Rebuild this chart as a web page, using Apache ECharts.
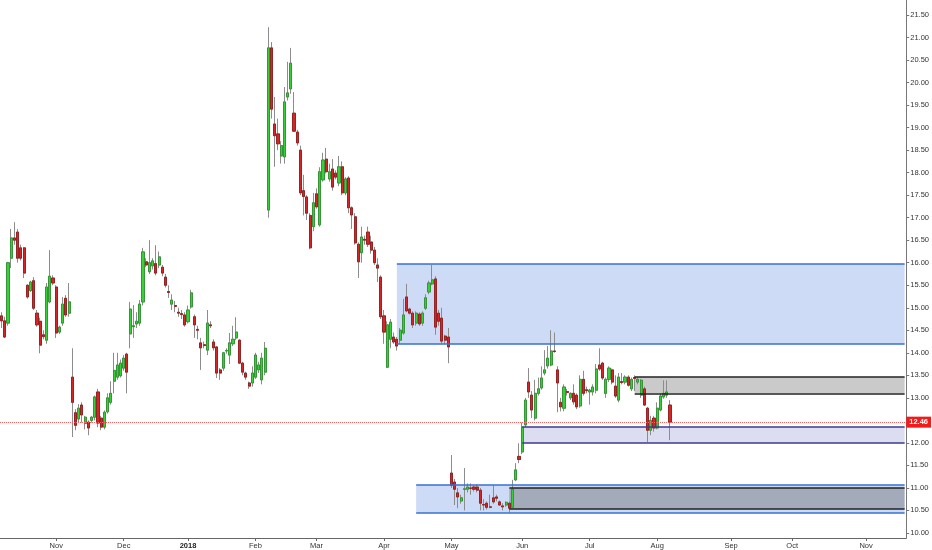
<!DOCTYPE html>
<html>
<head>
<meta charset="utf-8">
<script src="https://cdn.jsdelivr.net/npm/echarts@6/dist/echarts.min.js"></script>
<style>
  html, body { margin: 0; padding: 0; background: #fff; }
  #chart { width: 932px; height: 550px; }
</style>
</head>
<body>
<div id="chart"></div>
<script>
// daily bars from 2017-10-09, axis runs on to 2018-11-19
const firstDay = "2017-10-09";
const lastDay = "2018-11-19";
const holidays = ["2017-11-23", "2017-12-25", "2018-01-01", "2018-01-15", "2018-02-19",
  "2018-03-30", "2018-05-28", "2018-07-04", "2018-09-03"];

const opens = [
  14.82, 14.71, 14.66, 16.10, 16.55, 16.68, 16.33, 16.33, 15.50, 15.38,
  15.60, 14.88, 14.70, 14.40, 14.28, 15.13, 15.66, 15.46, 14.46, 14.66,
  15.21, 14.88, 13.46, 12.67, 12.53, 12.84, 12.43, 12.46, 12.50, 12.57,
  13.13, 12.55, 12.35, 12.69, 12.90, 13.37, 13.46, 13.49, 13.66, 13.97,
  14.42, 14.58, 14.64, 14.66, 15.13, 16.02, 15.80, 15.93, 15.98, 15.95,
  15.90, 15.68, 15.36, 15.08, 15.05, 14.90, 14.87, 14.84, 14.69, 15.02,
  14.80, 14.52, 14.22, 14.18, 14.06, 14.62, 14.24, 14.13, 13.62, 13.66,
  14.04, 13.95, 14.20, 14.33, 14.28, 13.77, 13.55, 13.33, 13.33, 13.46,
  13.62, 13.40, 13.57, 17.17, 20.77, 19.08, 18.86, 18.37, 18.35, 19.68,
  19.86, 19.32, 18.90, 18.50, 17.60, 17.46, 17.05, 16.80, 17.53, 16.84,
  17.84, 18.30, 17.86, 18.08, 17.99, 17.77, 18.13, 17.55, 17.88, 17.22,
  17.02, 16.41, 16.22, 16.52, 16.68, 16.46, 16.28, 15.95, 15.68, 14.82,
  13.68, 14.30, 14.35, 14.30, 14.28, 14.44, 15.24, 14.97, 14.88, 14.66,
  14.86, 14.66, 14.99, 15.35, 15.53, 15.64, 14.88, 14.77, 14.37, 14.35,
  11.33, 11.13, 10.89, 10.71, 10.97, 10.97, 11.00, 11.02, 11.02, 10.95,
  10.63, 10.66, 10.58, 10.78, 10.80, 10.69, 10.60, 10.62, 10.66, 10.57,
  11.18, 11.70, 11.80, 12.40, 13.35, 13.06, 12.55, 13.10, 13.22, 13.55,
  13.71, 13.73, 14.04, 13.62, 12.90, 12.77, 13.14, 13.00, 13.10, 13.06,
  12.82, 13.41, 13.18, 13.13, 13.13, 13.17, 13.73, 13.77, 13.10, 13.41,
  13.62, 13.26, 12.95, 13.36, 13.35, 13.46, 13.20, 13.45, 13.35, 13.06,
  13.20, 12.77, 12.28, 12.55, 12.33, 12.73, 13.02, 13.06, 12.84
];
const highs = [
  14.90, 14.80, 16.02, 16.75, 16.90, 16.75, 16.40, 16.35, 15.52, 15.60,
  15.68, 14.95, 14.78, 14.50, 15.55, 16.28, 15.72, 15.50, 14.60, 15.24,
  15.28, 15.55, 14.10, 12.75, 12.86, 12.90, 12.60, 12.50, 12.60, 13.05,
  13.20, 12.60, 12.72, 13.10, 13.37, 14.00, 14.00, 13.85, 13.95, 14.00,
  15.13, 15.06, 14.90, 15.17, 16.33, 16.10, 16.50, 16.10, 16.39, 16.25,
  15.95, 15.75, 15.50, 15.30, 15.15, 15.00, 14.95, 14.90, 15.05, 15.40,
  14.85, 14.60, 14.33, 14.25, 14.95, 14.70, 14.30, 14.15, 13.66, 14.02,
  14.10, 14.44, 14.60, 14.79, 14.30, 13.80, 13.58, 13.36, 13.70, 14.00,
  13.80, 14.00, 14.24, 21.23, 20.90, 19.68, 19.20, 18.70, 19.90, 20.46,
  20.77, 19.79, 18.95, 18.60, 17.95, 17.50, 17.10, 17.55, 17.65, 18.12,
  18.44, 18.55, 18.20, 18.30, 18.05, 18.37, 18.25, 17.90, 17.92, 17.25,
  17.10, 16.45, 16.80, 16.60, 16.80, 16.60, 16.35, 16.10, 15.72, 14.95,
  14.70, 14.75, 14.45, 14.35, 14.55, 15.20, 15.53, 15.00, 14.92, 14.92,
  14.90, 14.92, 15.30, 15.60, 15.95, 15.70, 14.95, 15.00, 14.40, 14.55,
  11.73, 11.20, 11.00, 10.85, 11.44, 11.10, 11.10, 11.05, 11.08, 11.00,
  10.75, 10.70, 10.85, 11.06, 10.85, 10.72, 10.66, 10.70, 10.70, 11.18,
  11.55, 11.99, 12.45, 13.00, 13.66, 13.15, 13.40, 13.45, 13.70, 14.06,
  14.15, 14.50, 14.45, 13.70, 13.00, 13.30, 13.20, 13.12, 13.30, 13.10,
  13.50, 13.60, 13.25, 13.20, 13.30, 13.75, 14.10, 13.80, 13.45, 13.70,
  13.65, 13.50, 13.55, 13.55, 13.50, 13.50, 13.45, 13.50, 13.45, 13.42,
  13.25, 12.80, 12.60, 12.60, 12.90, 13.10, 13.39, 13.39, 12.95
];
const lows = [
  14.55, 14.33, 14.60, 15.88, 16.40, 16.00, 16.05, 15.66, 15.20, 15.35,
  14.95, 14.58, 13.99, 14.30, 14.20, 15.10, 15.50, 14.33, 14.42, 14.60,
  14.80, 14.80, 12.13, 12.28, 12.45, 12.45, 12.30, 12.17, 12.45, 12.50,
  12.35, 12.28, 12.30, 12.65, 12.85, 13.10, 13.40, 13.45, 13.60, 13.10,
  14.10, 14.33, 14.55, 14.60, 15.05, 15.90, 15.75, 15.85, 15.72, 15.88,
  15.70, 15.45, 15.22, 14.95, 14.90, 14.80, 14.75, 14.58, 14.65, 14.98,
  14.33, 14.30, 13.62, 14.10, 13.95, 14.55, 14.05, 13.44, 13.40, 13.60,
  13.98, 13.75, 14.15, 14.28, 13.75, 13.50, 13.40, 13.20, 13.25, 13.42,
  13.55, 13.30, 13.50, 17.00, 19.20, 18.13, 18.50, 18.20, 18.20, 19.60,
  19.75, 18.90, 18.60, 17.50, 17.05, 16.95, 16.30, 16.70, 17.20, 16.80,
  17.80, 17.98, 17.80, 17.60, 17.85, 17.70, 17.50, 17.50, 17.10, 16.75,
  16.40, 15.66, 16.00, 16.40, 16.35, 16.20, 15.95, 15.57, 14.75, 14.20,
  13.66, 14.10, 14.20, 14.05, 14.20, 14.40, 14.90, 14.85, 14.55, 14.60,
  14.60, 14.60, 14.95, 15.30, 15.50, 14.40, 14.60, 14.20, 14.20, 13.77,
  11.00, 10.62, 10.55, 10.65, 10.50, 10.90, 10.85, 10.92, 10.90, 10.50,
  10.50, 10.52, 10.55, 10.65, 10.70, 10.60, 10.50, 10.58, 10.45, 10.55,
  11.15, 11.55, 11.75, 12.35, 13.00, 12.55, 12.50, 13.05, 13.18, 13.50,
  13.65, 13.70, 14.00, 12.68, 12.70, 12.70, 13.05, 12.95, 12.85, 12.75,
  12.78, 13.05, 13.10, 12.85, 13.05, 13.10, 13.60, 13.40, 13.00, 13.35,
  13.30, 13.00, 12.90, 13.30, 13.30, 13.25, 13.15, 13.15, 13.30, 13.00,
  12.82, 12.02, 12.17, 12.25, 12.30, 12.70, 12.98, 13.00, 12.06
];
const closes = [
  14.71, 14.35, 16.00, 16.55, 16.50, 16.10, 16.10, 15.77, 15.24, 15.57,
  14.99, 14.62, 14.17, 14.36, 15.46, 15.70, 15.55, 14.44, 14.57, 15.08,
  14.84, 15.13, 12.90, 12.39, 12.77, 12.62, 12.57, 12.33, 12.57, 13.02,
  12.44, 12.35, 12.68, 13.00, 13.10, 13.61, 13.73, 13.77, 13.88, 13.57,
  14.97, 14.60, 14.70, 15.08, 16.24, 15.95, 16.00, 16.04, 15.77, 16.13,
  15.77, 15.50, 15.34, 15.17, 15.03, 14.88, 14.85, 14.62, 14.95, 15.33,
  14.62, 14.50, 14.11, 14.16, 14.66, 14.60, 14.11, 13.55, 13.55, 14.00,
  14.05, 14.22, 14.30, 14.46, 13.77, 13.57, 13.46, 13.26, 13.55, 13.95,
  13.73, 13.88, 14.10, 20.77, 19.41, 18.82, 18.64, 18.60, 19.57, 19.77,
  20.43, 18.92, 18.66, 17.55, 17.47, 17.10, 16.33, 17.33, 17.24, 18.02,
  18.28, 18.02, 18.02, 17.68, 17.90, 18.13, 17.55, 17.86, 17.22, 17.06,
  16.44, 16.02, 16.57, 16.50, 16.41, 16.28, 16.00, 15.88, 14.80, 14.46,
  14.62, 14.68, 14.24, 14.15, 14.50, 14.84, 14.93, 14.88, 14.62, 14.88,
  14.64, 14.88, 15.22, 15.55, 15.62, 14.57, 14.70, 14.26, 14.28, 14.13,
  11.06, 10.97, 10.80, 10.78, 10.98, 11.02, 10.99, 10.97, 10.95, 10.66,
  10.62, 10.57, 10.57, 10.69, 10.77, 10.62, 10.58, 10.68, 10.55, 10.97,
  11.40, 11.63, 12.35, 12.95, 13.13, 12.73, 13.10, 13.20, 13.44, 13.62,
  13.88, 14.04, 14.03, 13.33, 12.80, 13.24, 13.12, 13.10, 12.91, 12.80,
  13.41, 13.10, 13.16, 13.17, 13.24, 13.64, 13.64, 13.44, 13.41, 13.66,
  13.35, 13.04, 13.46, 13.34, 13.46, 13.28, 13.41, 13.43, 13.41, 13.39,
  12.84, 12.28, 12.50, 12.33, 12.77, 13.04, 13.10, 13.13, 12.46
];

const yTicks = [10.0, 10.5, 11.0, 11.5, 12.0, 12.5, 13.0, 13.5, 14.0, 14.5, 15.0, 15.5,
  16.0, 16.5, 17.0, 17.5, 18.0, 18.5, 19.0, 19.5, 20.0, 20.5, 21.0, 21.5];
const monthNames = ["Jan", "Feb", "Mar", "Apr", "May", "Jun", "Jul", "Aug", "Sep", "Oct", "Nov", "Dec"];

// drawn zones: start day, top and bottom price (they all run to the right edge)
const zoneStart = ["2018-04-06", "2018-04-16", "2018-05-25", "2018-06-01", "2018-07-23"];
const zoneTop = [15.97, 11.06, 11.00, 12.35, 13.46];
const zoneBottom = [14.20, 10.45, 10.53, 12.00, 13.10];

const zoneFill = ["rgba(60,110,220,0.25)", "rgba(60,110,220,0.25)", "rgba(100,100,100,0.4)",
  "rgba(120,120,200,0.25)", "rgba(128,128,128,0.42)"];
const zoneLine = ["#346fd4", "#346fd4", "#222", "#3d3a8f", "#222"];

function tradingDays(from, to, skip) {
  const out = [];
  const d = new Date(from + "T00:00:00Z");
  const end = new Date(to + "T00:00:00Z");
  while (d <= end) {
    const s = d.toISOString().slice(0, 10);
    const wd = d.getUTCDay();
    if (wd !== 0 && wd !== 6 && !skip.includes(s)) out.push(s);
    d.setUTCDate(d.getUTCDate() + 1);
  }
  return out;
}

const days = tradingDays(firstDay, lastDay, holidays);
const edgeDay = days[days.length - 1];
const isMonthStart = (i) => i > 0 && days[i].slice(5, 7) !== days[i - 1].slice(5, 7);

const wickData = opens.map((o, i) => [o, closes[i], lows[i], highs[i]]);
const bodyData = opens.map((o, i) => [o, closes[i], Math.min(o, closes[i]), Math.max(o, closes[i])]);
const lastClose = closes[closes.length - 1];

const font = "Liberation Sans, Arial, sans-serif";

const zoneAreas = zoneStart.map((s, i) => [
  { coord: [s, zoneTop[i]], itemStyle: { color: zoneFill[i] } },
  { coord: [edgeDay, zoneBottom[i]] },
]);

const zoneEdges = [];
zoneStart.forEach((s, i) => {
  [zoneTop[i], zoneBottom[i]].forEach((p) => {
    zoneEdges.push([
      { coord: [s, p], lineStyle: { color: zoneLine[i], width: 1.6, type: "solid" } },
      { coord: [edgeDay, p] },
    ]);
  });
});

const chart = echarts.init(document.getElementById("chart"));

chart.setOption({
  animation: false,
  backgroundColor: "#fff",
  grid: { left: 0, right: 22, top: 0, bottom: 12 },
  xAxis: {
    type: "category",
    data: days,
    boundaryGap: true,
    axisLine: { lineStyle: { color: "#666", width: 1 } },
    axisTick: {
      show: true,
      alignWithLabel: true,
      length: 3,
      interval: (i) => isMonthStart(i),
      lineStyle: { color: "#666" },
    },
    axisLabel: {
      interval: (i) => isMonthStart(i),
      margin: 4,
      fontSize: 7.5,
      fontFamily: font,
      color: "#333",
      formatter: (v) => {
        const m = +v.slice(5, 7);
        return m === 1 ? "{y|" + v.slice(0, 4) + "}" : monthNames[m - 1];
      },
      rich: { y: { fontSize: 7.5, fontWeight: "bold", fontFamily: font, color: "#222" } },
    },
    splitLine: { show: false },
  },
  yAxis: {
    type: "value",
    position: "right",
    min: 9.888,
    max: 21.833,
    scale: true,
    axisLine: { show: true, lineStyle: { color: "#777", width: 1 } },
    axisTick: { show: true, length: 3, customValues: yTicks, lineStyle: { color: "#777" } },
    axisLabel: {
      customValues: yTicks,
      margin: 4,
      fontSize: 7.5,
      fontFamily: font,
      color: "#333",
      formatter: (v) => v.toFixed(2),
    },
    splitLine: { show: false },
  },
  series: [
    {
      name: "wicks",
      type: "candlestick",
      data: wickData,
      barWidth: 2.6,
      z: 2,
      silent: true,
      itemStyle: {
        color: "rgba(0,0,0,0)",
        color0: "rgba(0,0,0,0)",
        borderColor: "#8c8c8c",
        borderColor0: "#8c8c8c",
        borderWidth: 1,
      },
    },
    {
      name: "bodies",
      type: "candlestick",
      data: bodyData,
      barWidth: 2.6,
      z: 3,
      silent: true,
      itemStyle: {
        color: "#38d038",
        color0: "#d42626",
        borderColor: "#2a8f2a",
        borderColor0: "#8f1616",
        borderWidth: 0.8,
      },
    },
    {
      name: "zones",
      type: "line",
      data: [],
      z: 4,
      clip: false,
      silent: true,
      markArea: {
        silent: true,
        itemStyle: { borderWidth: 0 },
        data: zoneAreas,
      },
      markLine: {
        silent: true,
        symbol: ["none", "none"],
        label: { show: false },
        data: zoneEdges.concat([
          {
            yAxis: lastClose,
            lineStyle: { color: "#f06060", width: 1, type: "dotted" },
            label: {
              show: true,
              position: "end",
              distance: 0,
              formatter: lastClose.toFixed(2),
              color: "#fff",
              backgroundColor: "#f01c1c",
              fontWeight: "bold",
              fontSize: 7.5,
              fontFamily: font,
              padding: [2, 3, 1, 3],
            },
          },
        ]),
      },
    },
  ],
});
</script>
</body>
</html>
